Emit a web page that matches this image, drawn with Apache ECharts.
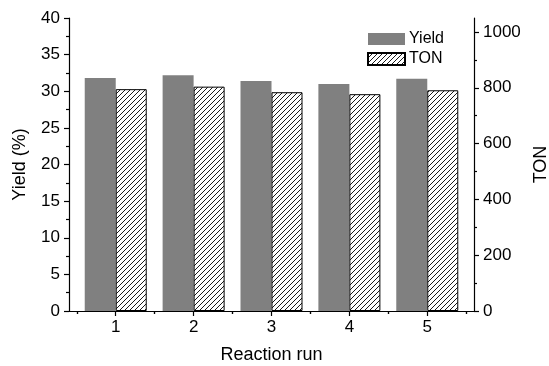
<!DOCTYPE html>
<html>
<head>
<meta charset="utf-8">
<script src="https://cdn.jsdelivr.net/npm/echarts@6/dist/echarts.min.js"></script>
<style>
  html, body { margin: 0; padding: 0; background: #fff; }
  #chart { width: 549px; height: 366px; }
</style>
</head>
<body>
<div id="chart"></div>
<script>
var runs = [1, 2, 3, 4, 5];
var halfRuns = [0.5, 1.5, 2.5, 3.5, 4.5, 5.5];
var yieldVals = [31.8, 32.2, 31.4, 31.0, 31.7];
var tonVals = [795, 804, 784, 777, 791];
var tonTicks = [0, 200, 400, 600, 800, 1000];
var tonMinor = [100, 300, 500, 700, 900];

(function() {
  var font = "'Liberation Sans', Arial, sans-serif";
  var ink = '#000';

  // diagonal hatch tile for the TON bars
  function hatch() {
    var c = document.createElement('canvas');
    c.width = 5; c.height = 5;
    var g = c.getContext('2d');
    g.fillStyle = '#fff';
    g.fillRect(0, 0, 5, 5);
    g.strokeStyle = '#000';
    g.lineWidth = 0.9;
    g.beginPath();
    g.moveTo(0, 5); g.lineTo(5, 0);
    g.moveTo(-1, 1); g.lineTo(1, -1);
    g.moveTo(4, 6); g.lineTo(6, 4);
    g.stroke();
    return c;
  }

  var xMin = 0.4, xMax = 5.6;
  var lineStyle = { color: ink, width: 1.2 };

  var chart = echarts.init(document.getElementById('chart'));
  chart.setOption({
    animation: false,
    textStyle: { fontFamily: font, color: ink },
    grid: { left: 69, right: 75, top: 18, bottom: 55, outerBoundsMode: 'none', containLabel: false },
    legend: {
      orient: 'vertical',
      left: 367,
      top: 31,
      padding: 0,
      itemWidth: 37,
      itemHeight: 12,
      itemGap: 4,
      icon: 'rect',
      textStyle: { fontFamily: font, fontSize: 16, color: ink, padding: [0, 0, 0, -1] },
      data: ['Yield', 'TON']
    },
    xAxis: [
      {
        type: 'value', position: 'bottom', min: xMin, max: xMax,
        name: 'Reaction run', nameLocation: 'middle', nameGap: 35,
        nameTextStyle: { fontSize: 18, fontFamily: font, color: ink },
        axisLine: { lineStyle: lineStyle },
        axisTick: { show: true, length: 5, customValues: runs, lineStyle: lineStyle },
        axisLabel: { customValues: runs, fontSize: 17, color: ink, margin: 8 },
        splitLine: { show: false }
      },
      {
        type: 'value', position: 'bottom', min: xMin, max: xMax,
        axisLine: { show: false },
        axisTick: { show: true, length: 3, customValues: halfRuns, lineStyle: lineStyle },
        axisLabel: { show: false },
        splitLine: { show: false }
      },
      {
        type: 'value', position: 'top', min: xMin, max: xMax,
        axisLine: { lineStyle: lineStyle },
        axisTick: { show: true, inside: true, length: 3, customValues: halfRuns, lineStyle: lineStyle },
        axisLabel: { show: false },
        splitLine: { show: false }
      }
    ],
    yAxis: [
      {
        type: 'value', position: 'left', min: 0, max: 40, interval: 5,
        name: 'Yield (%)', nameLocation: 'middle', nameGap: 40,
        nameTextStyle: { fontSize: 18, fontFamily: font, color: ink },
        axisLine: { show: true, lineStyle: lineStyle },
        axisTick: { show: true, length: 5, lineStyle: lineStyle },
        minorTick: { show: true, splitNumber: 2, length: 3, lineStyle: lineStyle },
        axisLabel: { fontSize: 17, color: ink, margin: 9 },
        splitLine: { show: false }
      },
      {
        type: 'value', position: 'right', min: 0, max: 1050,
        name: 'TON', nameLocation: 'middle', nameGap: 55,
        nameTextStyle: { fontSize: 18, fontFamily: font, color: ink },
        axisLine: { show: true, lineStyle: lineStyle },
        axisTick: { show: true, length: 5, customValues: tonTicks, lineStyle: lineStyle },
        axisLabel: {
          customValues: tonTicks, fontSize: 17, color: ink, margin: 9,
          formatter: function(v) { return String(v); }
        },
        splitLine: { show: false }
      },
      {
        type: 'value', position: 'right', min: 0, max: 1050,
        axisLine: { show: false },
        axisTick: { show: true, length: 3, customValues: tonMinor, lineStyle: lineStyle },
        axisLabel: { show: false },
        splitLine: { show: false }
      }
    ],
    series: [
      {
        name: 'Yield',
        type: 'bar',
        xAxisIndex: 0, yAxisIndex: 0,
        barWidth: 31, barGap: '0%',
        itemStyle: { color: '#808080' },
        data: runs.map(function(r, i) { return [r, yieldVals[i]]; })
      },
      {
        name: 'TON',
        type: 'bar',
        xAxisIndex: 0, yAxisIndex: 1,
        barWidth: 31, barGap: '0%',
        itemStyle: {
          color: { image: hatch(), repeat: 'repeat' },
          borderColor: '#000', borderWidth: 1
        },
        data: runs.map(function(r, i) { return [r, tonVals[i]]; })
      }
    ]
  });
})();
</script>
</body>
</html>
